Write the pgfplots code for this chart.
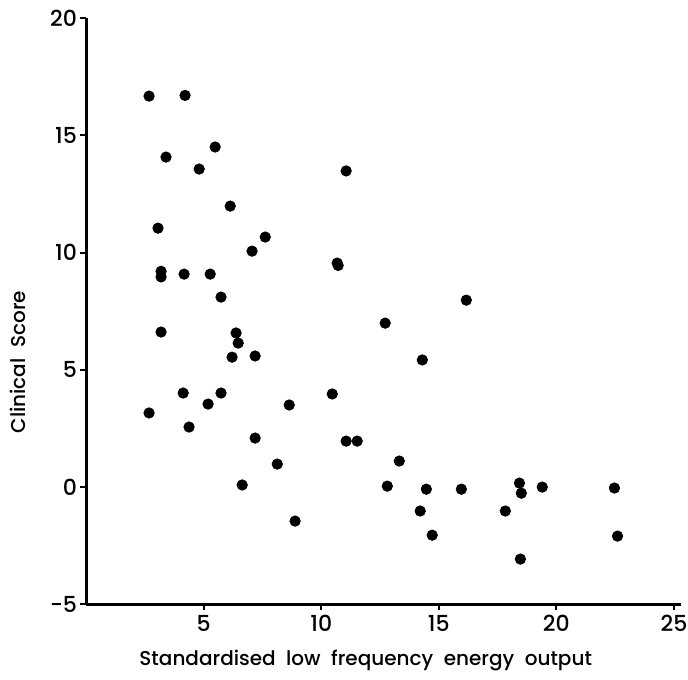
\documentclass[border=0pt]{standalone}
\usepackage{pgfplots}
\pgfplotsset{compat=1.18}
\usepackage{fontspec}
\setmainfont{Poppins}[UprightFont={* Medium}]
\begin{document}
\begin{tikzpicture}
\begin{axis}[
 scale only axis,
 width=297.3pt,height=293pt,
 xmin=0,xmax=25.3,ymin=-5,ymax=20,
 axis x line*=bottom,axis y line*=left,
 axis line style={line width=1.5pt},
 xtick={5,10,15,20,25},ytick={-5,0,5,10,15,20},
 tick align=outside,major tick length=3pt,
 tick style={line width=1pt,black},
 /pgf/number format/assume math mode=true,
 tick label style={font=\fontsize{11}{13}\selectfont},
 xticklabel style={yshift=1pt},
 yticklabel style={xshift=2pt},
 xlabel={Standardised\ \ low\ \ frequency\ \ energy\ \ output},
 ylabel={Clinical\ \ Score},
 label style={font=\fontsize{10}{12}\selectfont},
 xlabel style={at={(rel axis cs:0.47,-0.0956)},anchor=center},
 ylabel style={at={(rel axis cs:-0.114,0.413)},anchor=center},
 clip=false]
\addplot[only marks,mark=*,mark size=2.6pt,black] coordinates {
(2.68,16.67) (4.21,16.7) (3.4,14.07) (5.49,14.5) (4.81,13.56) (11.06,13.48)
(6.13,11.98) (3.06,11.04) (7.62,10.66) (7.06,10.06) (10.68,9.55) (10.72,9.45)
(3.19,9.2) (3.19,8.96) (4.17,9.08) (5.28,9.08) (5.74,8.1) (16.17,7.97)
(3.19,6.61) (6.38,6.57) (6.47,6.14) (12.72,6.99) (6.21,5.54) (7.19,5.59)
(14.3,5.42) (4.13,4.01) (5.74,4.01) (10.47,3.97) (2.68,3.16) (5.19,3.54)
(8.64,3.5) (4.38,2.56) (7.19,2.09) (11.06,1.96) (11.53,1.96) (8.13,0.98)
(13.32,1.11) (6.64,0.09) (12.81,0.04) (14.47,-0.09) (15.96,-0.09)
(18.43,0.17) (18.51,-0.26) (19.4,0.0) (22.47,-0.04) (8.89,-1.45)
(14.21,-1.02) (17.83,-1.02) (14.72,-2.05) (22.6,-2.09) (18.47,-3.07)
};
\end{axis}
\pgfresetboundingbox
\path (current axis.south west) ++(-43pt,-37.5pt) coordinate (bl);
\path (current axis.north east) ++(3.5pt,9pt) coordinate (tr);
\path (bl) rectangle (tr);
\end{tikzpicture}
\end{document}
